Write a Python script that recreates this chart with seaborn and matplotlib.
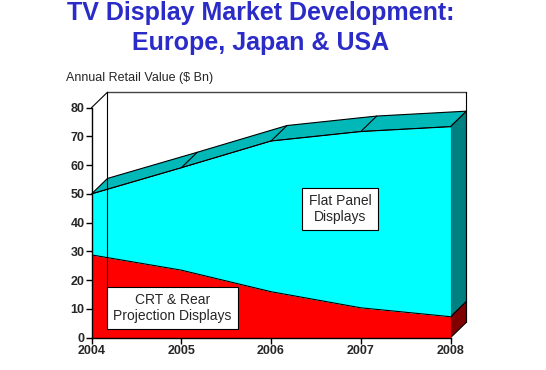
import matplotlib
matplotlib.use("Agg")
import matplotlib.pyplot as plt
import seaborn as sns
import numpy as np
import pandas as pd

# data
years = [2004, 2005, 2006, 2007, 2008]
crt_rear = [28.8, 23.5, 16.0, 10.4, 7.3]
flat_panel = [21.2, 35.6, 52.4, 61.3, 66.1]
y_ticks = [0, 10, 20, 30, 40, 50, 60, 70, 80]
title_lines = ["TV Display Market Development:", "Europe, Japan & USA"]

df = pd.DataFrame({"year": years, "crt": crt_rear, "flat": flat_panel})
df["total"] = df["crt"] + df["flat"]

sns.set_style("white")
plt.rcParams['font.family'] = ['Liberation Sans', 'DejaVu Sans']

fig = plt.figure(figsize=(5.46, 3.70), dpi=100)
ax = fig.add_axes([0.1676, 0.0873, 0.6575, 0.6216])
ax.set_xlim(2004, 2008)
ax.set_ylim(0, 80)

# depth of the 3d effect in data units
dx = 0.178
dy = 5.4

# back wall frame
x0, x1 = years[0], years[-1]
ax.plot([x0 + dx, x1 + dx], [80 + dy, 80 + dy], color='#444444', lw=1, clip_on=False)
ax.plot([x0 + dx, x0 + dx], [dy, 80 + dy], color='black', lw=0.8, clip_on=False)
ax.plot([x1 + dx, x1 + dx], [dy, 80 + dy], color='black', lw=0.8, clip_on=False)
ax.plot([x0, x0 + dx], [80, 80 + dy], color='black', lw=0.8, clip_on=False)

yrs = df["year"].values.astype(float)
tot = df["total"].values
crt = df["crt"].values

# top face
top_x = np.concatenate([yrs, (yrs + dx)[::-1]])
top_y = np.concatenate([tot, (tot + dy)[::-1]])
ax.fill(top_x, top_y, facecolor='#00B8B8', edgecolor='black', lw=0.8, clip_on=False)
for x, t in zip(yrs[1:-1], tot[1:-1]):
    ax.plot([x, x + dx], [t, t + dy], color='black', lw=0.8, clip_on=False)

# right side face
ax.fill([x1, x1 + dx, x1 + dx, x1], [0, dy, crt[-1] + dy, crt[-1]],
        facecolor='#800000', edgecolor='black', lw=0.8, clip_on=False)
ax.fill([x1, x1 + dx, x1 + dx, x1], [crt[-1], crt[-1] + dy, tot[-1] + dy, tot[-1]],
        facecolor='#008080', edgecolor='black', lw=0.8, clip_on=False)

# front stacked areas
ax.fill_between(yrs, 0, crt, color='#FF0000', lw=0)
ax.fill_between(yrs, crt, tot, color='#00FFFF', lw=0)
sns.lineplot(x=yrs, y=crt, ax=ax, color='black', lw=0.8)
sns.lineplot(x=yrs, y=tot, ax=ax, color='black', lw=0.8)
ax.plot([x1, x1], [0, tot[-1]], color='black', lw=0.8)

# axes styling
for s in ['top', 'right']:
    ax.spines[s].set_visible(False)
for s in ['left', 'bottom']:
    ax.spines[s].set_color('black')
    ax.spines[s].set_linewidth(1)
ax.set_yticks(y_ticks)
ax.set_xticks(years)
ax.set_xticklabels([str(y) for y in years])
ax.tick_params(axis='both', direction='out', length=4, width=1, color='black',
               labelsize=9, pad=1)
ax.tick_params(axis='y', left=True)
ax.tick_params(axis='x', bottom=True)
for lab in ax.get_xticklabels() + ax.get_yticklabels():
    lab.set_fontweight('bold')

# annotations
ax.text(2004.9, 10.3, "CRT & Rear\nProjection Displays", ha='center', va='center',
        fontsize=10, linespacing=1.15,
        bbox=dict(boxstyle='square,pad=0.45', facecolor='white', edgecolor='black', lw=0.8))
ax.text(2006.77, 44.8, "Flat Panel\nDisplays", ha='center', va='center',
        fontsize=10, linespacing=1.15,
        bbox=dict(boxstyle='square,pad=0.45', facecolor='white', edgecolor='black', lw=0.8))

fig.text(66 / 546, 1 - 78 / 370, "Annual Retail Value ($ Bn)", ha='left', va='center',
         fontsize=9)
for line, base in zip(title_lines, [20, 50]):
    fig.text(261 / 546, 1 - base / 370, line, ha='center', va='baseline',
             fontsize=18, fontweight='bold', color='#2B2BC8')

fig.savefig("out.png", dpi=100, facecolor='white')
